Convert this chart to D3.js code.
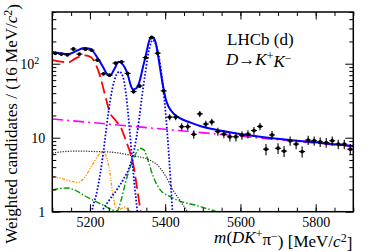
<!DOCTYPE html>
<html>
<head>
<meta charset="utf-8">
<script src="https://cdn.jsdelivr.net/npm/d3@7"></script>
<style>
  body { margin: 0; background: #fff; }
  text { font-family: "Liberation Serif", "Times New Roman", serif; fill: #000; }
</style>
</head>
<body>
<div id="chart"></div>
<script>
// bin centres (16 MeV bins from 5100 to 5900)
const binCentres = d3.range(5108, 5900, 16);
const counts = [138, 135, 132, 158, 135, 157, 153, 112, 73, 70,
  102, 106, 74, 42, 50, 121, 226, 139, 43, 19,
  19, 14.1, 14.1, 11.1, 21, 15.3, 16.3, 12.1, 11.2, 10.3,
  10.3, 10.8, 11.2, 12.5, 14.2, 7.0, 10.9, 7.2, 6.6, 9.1,
  8.2, 6.5, 9.3, 9.1, 8.8, 8.6, 9.1, 8.2, 8.2, 7.0];
const errors = [4.7, 4.6, 4.6, 5.0, 4.6, 5.0, 4.9, 4.2, 3.4, 3.3,
  4.0, 4.1, 3.4, 2.6, 2.8, 4.4, 6.0, 4.7, 2.6, 1.8,
  1.8, 1.6, 1.6, 1.4, 1.9, 1.7, 1.7, 1.5, 1.4, 1.4,
  1.4, 1.4, 1.4, 1.5, 1.6, 1.2, 1.4, 1.2, 1.1, 1.3,
  1.2, 1.1, 1.3, 1.3, 1.3, 1.3, 1.3, 1.2, 1.2, 1.2];

// fit components, [mass, weighted candidates]
const totalFit = [[5100, 144], [5120, 139], [5142, 135], [5163, 148], [5184, 163], [5200, 160],
  [5221, 118], [5236, 88], [5244, 74], [5253, 69], [5266, 87], [5276, 106], [5285, 101],
  [5293, 88], [5301, 70], [5308, 52], [5314, 45], [5322, 46], [5332, 58], [5341, 90],
  [5350, 140], [5357, 200], [5364, 232], [5370, 222], [5376, 180], [5381, 130], [5389, 72],
  [5395, 48], [5401, 34], [5408, 27], [5415, 23.5], [5424, 20.8], [5439, 18.4], [5466, 16.1],
  [5493, 14.4], [5532, 12.9], [5599, 11.2], [5705, 9.6], [5811, 8.5], [5900, 7.7]];
const partReco = [[5100, 112], [5123, 107], [5142, 104], [5163, 119], [5187, 130], [5203, 122],
  [5214, 102], [5227, 68], [5240, 38], [5253, 22], [5269, 17], [5283, 13.5], [5296, 9],
  [5309, 5.8], [5317, 3.9], [5326, 1.96], [5334, 1.05], [5340, 0.6]];
const peakB0 = [[5200, 0.7], [5205, 1.0], [5220, 2.0], [5235, 6], [5248, 20], [5260, 47], [5270, 70],
  [5279, 78], [5288, 66], [5297, 35], [5306, 12], [5315, 3.5], [5326, 1.0], [5332, 0.5]];
const peakBs = [[5225, 0.8], [5232, 1.0], [5250, 1.4], [5272, 2.0], [5290, 2.8], [5305, 4.0],
  [5318, 7], [5328, 14], [5338, 35], [5348, 80], [5358, 160], [5367, 209], [5375, 184],
  [5385, 111], [5395, 45], [5405, 12.5], [5415, 2.3], [5422, 0.57]];
const combinatorial = [[5100, 17.9], [5900, 7.6]];
const blackBkg = [[5100, 6.2], [5134, 6.5], [5174, 6.6], [5213, 6.5], [5253, 6.4], [5293, 6.0],
  [5320, 5.6], [5346, 5.3], [5365, 4.8], [5381, 4.2], [5400, 3.1], [5421, 1.95], [5440, 1.4],
  [5458, 1.0], [5470, 0.7]];
const orangeBkg = [[5100, 2.94], [5120, 2.85], [5147, 2.6], [5168, 2.5], [5187, 2.94], [5206, 4.3],
  [5221, 5.65], [5235, 6.4], [5245, 5.3], [5253, 3.44], [5261, 1.68], [5269, 1.15],
  [5280, 1.08], [5291, 1.15], [5301, 1.08], [5309, 0.96], [5315, 0.8]];
const greenBkg = [[5100, 1.96], [5120, 2.06], [5139, 2.09], [5160, 1.96], [5187, 1.63],
  [5213, 1.39], [5240, 1.19], [5261, 1.05], [5272, 1.02], [5283, 1.44], [5293, 2.3],
  [5307, 4.0], [5320, 5.8], [5333, 7.2], [5344, 6.8], [5354, 5.0], [5368, 3.0], [5386, 2.0],
  [5413, 1.6], [5439, 1.39], [5479, 1.23], [5506, 1.12], [5535, 1.0], [5550, 0.9]];

const xMajor = [5200, 5400, 5600, 5800];
const xMinor = d3.range(5100, 5901, 50);
const yMajor = [1, 10, 100];
const yMinor = [2, 3, 4, 5, 6, 7, 8, 9, 20, 30, 40, 50, 60, 70, 80, 90, 200, 300, 400, 500];

const W = 372, H = 252;
const frame = { left: 52.3, right: 353.3, top: 12, bottom: 211.7 };

const svg = d3.select("#chart").append("svg")
  .attr("width", W).attr("height", H);

const x = d3.scaleLinear().domain([5100, 5900]).range([frame.left, frame.right]);
const y = d3.scaleLog().domain([1, 500]).range([frame.bottom, frame.top]);

svg.append("defs").append("clipPath").attr("id", "frame-clip")
  .append("rect")
  .attr("x", frame.left).attr("y", frame.top)
  .attr("width", frame.right - frame.left).attr("height", frame.bottom - frame.top);

const plot = svg.append("g").attr("clip-path", "url(#frame-clip)");

const line = d3.line()
  .x(d => x(d[0]))
  .y(d => y(d[1]))
  .curve(d3.curveMonotoneX);

const straight = d3.line().x(d => x(d[0])).y(d => y(d[1]));

const curves = [
  { data: greenBkg, color: "#009a00", width: 1.4, dash: "6,2,1.5,2", gen: line },
  { data: orangeBkg, color: "#ff9900", width: 1.4, dash: "3,1.5,1.2,1.5,1.2,1.5", gen: line },
  { data: blackBkg, color: "#333", width: 1.2, dash: "1.3,1.3", gen: line },
  { data: combinatorial, color: "#ff00ff", width: 1.6, dash: "11,4,2,4", gen: straight },
  { data: partReco, color: "#ff0000", width: 1.8, dash: "12,5", gen: line },
  { data: peakB0, color: "#0000ff", width: 1.8, dash: "1.6,1.8", gen: line },
  { data: peakBs, color: "#0000ff", width: 1.8, dash: "1.6,1.8", gen: line },
  { data: totalFit, color: "#0000ff", width: 2, dash: null, gen: line }
];

plot.selectAll("path.curve")
  .data(curves)
  .join("path")
  .attr("class", "curve")
  .attr("d", d => d.gen(d.data))
  .attr("fill", "none")
  .attr("stroke", d => d.color)
  .attr("stroke-width", d => d.width)
  .attr("stroke-dasharray", d => d.dash);

// data points with error bars
const points = binCentres.map((m, i) => ({ m, v: counts[i], e: errors[i] }));
const pts = svg.append("g");
pts.selectAll("line.ey")
  .data(points)
  .join("line")
  .attr("class", "ey")
  .attr("x1", d => x(d.m)).attr("x2", d => x(d.m))
  .attr("y1", d => y(d.v - d.e)).attr("y2", d => y(d.v + d.e))
  .attr("stroke", "#000").attr("stroke-width", 1.1);
pts.selectAll("line.ex")
  .data(points)
  .join("line")
  .attr("class", "ex")
  .attr("x1", d => x(d.m - 8)).attr("x2", d => x(d.m + 8))
  .attr("y1", d => y(d.v)).attr("y2", d => y(d.v))
  .attr("stroke", "#000").attr("stroke-width", 1.1);
pts.selectAll("circle")
  .data(points)
  .join("circle")
  .attr("cx", d => x(d.m)).attr("cy", d => y(d.v))
  .attr("r", 1.9).attr("fill", "#000");

// axes: ticks on all four sides pointing inwards
const axisStyle = g => {
  g.attr("font-family", null);
  g.select(".domain").remove();
  g.selectAll("line").attr("stroke", "#000").attr("stroke-width", 1);
};

svg.append("g")
  .attr("transform", `translate(0,${frame.bottom})`)
  .call(d3.axisBottom(x).tickValues(xMinor).tickSize(-4).tickFormat(""))
  .call(axisStyle);
svg.append("g")
  .attr("transform", `translate(0,${frame.bottom})`)
  .call(d3.axisBottom(x).tickValues(xMajor).tickSize(-7.5).tickPadding(5).tickFormat(d3.format("d")))
  .call(axisStyle)
  .selectAll("text").style("font-size", "14px");
svg.append("g")
  .attr("transform", `translate(0,${frame.top})`)
  .call(d3.axisTop(x).tickValues(xMinor).tickSize(-4).tickFormat(""))
  .call(axisStyle);
svg.append("g")
  .attr("transform", `translate(0,${frame.top})`)
  .call(d3.axisTop(x).tickValues(xMajor).tickSize(-7.5).tickFormat(""))
  .call(axisStyle);

svg.append("g")
  .attr("transform", `translate(${frame.left},0)`)
  .call(d3.axisLeft(y).tickValues(yMinor).tickSize(-4).tickFormat(""))
  .call(axisStyle);
const yAxisMajor = svg.append("g")
  .attr("transform", `translate(${frame.left},0)`)
  .call(d3.axisLeft(y).tickValues(yMajor).tickSize(-8).tickPadding(7)
    .tickFormat(d => d === 100 ? "10" : String(d)))
  .call(axisStyle);
yAxisMajor.selectAll("text").style("font-size", "14px");
yAxisMajor.selectAll(".tick").filter(d => d === 100).select("text")
  .attr("dx", "-6px")
  .append("tspan").attr("dy", "-0.45em").style("font-size", "10px").text("2");
svg.append("g")
  .attr("transform", `translate(${frame.right},0)`)
  .call(d3.axisRight(y).tickValues(yMinor).tickSize(-4).tickFormat(""))
  .call(axisStyle);
svg.append("g")
  .attr("transform", `translate(${frame.right},0)`)
  .call(d3.axisRight(y).tickValues(yMajor).tickSize(-8).tickFormat(""))
  .call(axisStyle);

svg.append("rect")
  .attr("x", frame.left).attr("y", frame.top)
  .attr("width", frame.right - frame.left).attr("height", frame.bottom - frame.top)
  .attr("fill", "none").attr("stroke", "#000").attr("stroke-width", 1.5);

// axis titles
const yTitle = svg.append("text")
  .attr("transform", "translate(16.5,4) rotate(-90)")
  .attr("text-anchor", "end")
  .style("font-size", "17px");
yTitle.append("tspan").text("Weighted candidates / (16 MeV/");
yTitle.append("tspan").style("font-style", "italic").text("c");
yTitle.append("tspan").attr("dy", "-0.4em").style("font-size", "12px").text("2");
yTitle.append("tspan").attr("dy", "0.4em").text(")");

const xTitle = svg.append("text")
  .attr("x", frame.right - 1).attr("y", 243)
  .attr("text-anchor", "end")
  .style("font-size", "17px");
xTitle.append("tspan").style("font-style", "italic").text("m");
xTitle.append("tspan").text("(");
xTitle.append("tspan").style("font-style", "italic").text("DK");
xTitle.append("tspan").attr("dy", "-0.4em").style("font-size", "12px").text("+");
xTitle.append("tspan").attr("dy", "0.4em").text("π");
xTitle.append("tspan").attr("dy", "-0.4em").style("font-size", "12px").text("−");
xTitle.append("tspan").attr("dy", "0.4em").text(") [MeV/");
xTitle.append("tspan").style("font-style", "italic").text("c");
xTitle.append("tspan").attr("dy", "-0.4em").style("font-size", "12px").text("2");
xTitle.append("tspan").attr("dy", "0.4em").text("]");

// labels
svg.append("text")
  .attr("x", 227).attr("y", 45)
  .style("font-size", "17px")
  .text("LHCb (d)");

const decay = svg.append("text")
  .attr("x", 226).attr("y", 65)
  .style("font-size", "17px");
decay.append("tspan").style("font-style", "italic").text("D");
decay.append("tspan").text("→");
decay.append("tspan").style("font-style", "italic").text("K");
decay.append("tspan").attr("dy", "-0.4em").style("font-size", "12px").text("+");
decay.append("tspan").attr("dy", "0.4em").style("font-style", "italic").text("K");
decay.append("tspan").attr("dy", "-0.4em").style("font-size", "12px").text("−");
</script>
</body>
</html>
